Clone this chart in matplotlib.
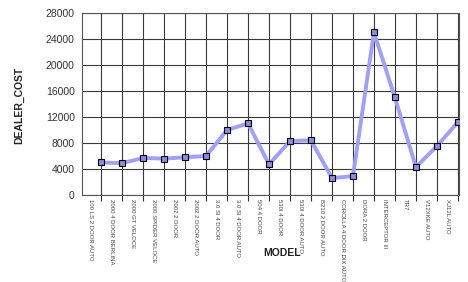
import numpy as np
import matplotlib
matplotlib.use('Agg')
import matplotlib.pyplot as plt

plt.rcParams['font.family'] = ['Liberation Sans', 'DejaVu Sans']

# ===== 数据 =====
models = ['100 LS 2 DOOR AUTO', '2000 4 DOOR BERLINA', '2000 GT VELOCE',
          '2000 SPIDER VELOCE', '2002 2 DOOR', '2002 2 DOOR AUTO',
          '3.0 SI 4 DOOR', '3.0 SI 4 DOOR AUTO', '504 4 DOOR', '530I 4 DOOR',
          '530I 4 DOOR AUTO', 'B210 2 DOOR AUTO', 'COROLLA 4 DOOR DIX AUTO',
          'DORA 2 DOOR', 'INTERCEPTOR III', 'TR7', 'V12XKE AUTO', 'XJ12L AUTO']
dealer_cost = [5000, 4900, 5700, 5600, 5800, 6000, 10000, 11000, 4700, 8300,
               8400, 2600, 2900, 25000, 15000, 4300, 7500, 11200]
yticks = [0, 4000, 8000, 12000, 16000, 20000, 24000, 28000]

# ===== 绘图 =====
fig = plt.figure(figsize=(4.68, 2.82), dpi=100)
ax = fig.add_axes([0.1746, 0.3085, 0.8064, 0.6455])

x = np.arange(len(models))
ax.plot(x, dealer_cost, color='#a0a0f4', linewidth=2.8, solid_capstyle='round',
        marker='s', markersize=5, markerfacecolor='#8c8ce0',
        markeredgecolor='black', markeredgewidth=0.8, zorder=3)

ax.set_xlim(-0.93, len(models) - 1 + 0.06)
ax.set_ylim(0, 28000)
ax.set_yticks(yticks)
ax.set_yticklabels([str(v) for v in yticks], fontsize=7.5, color='#333333')
ax.tick_params(axis='y', length=0, pad=5)

# 网格线在类别位置，标签放在两条网格线之间
ax.set_xticks(x)
ax.set_xticklabels([])
ax.tick_params(axis='x', which='major', length=4, direction='out', color='#333333')
ax.set_xticks(x - 0.5, minor=True)
ax.set_xticklabels(models, minor=True, rotation=270, fontsize=4.3,
                   color='#444444', va='top', ha='center')
ax.tick_params(axis='x', which='minor', length=0, pad=3)

ax.grid(True, which='major', color='#3a3a3a', linewidth=0.8)
for s in ax.spines.values():
    s.set_color('#555555')
    s.set_linewidth(0.8)

fig.text(19 / 468, 1 - 105 / 282, 'DEALER_COST', rotation=90, fontsize=7.5,
         fontweight='bold', ha='center', va='center', color='#222222')
fig.text(282 / 468, 1 - 253 / 282, 'MODEL', fontsize=7.5, fontweight='bold',
         ha='center', va='center', color='#222222')

plt.savefig('out.png', dpi=100)
plt.close()
